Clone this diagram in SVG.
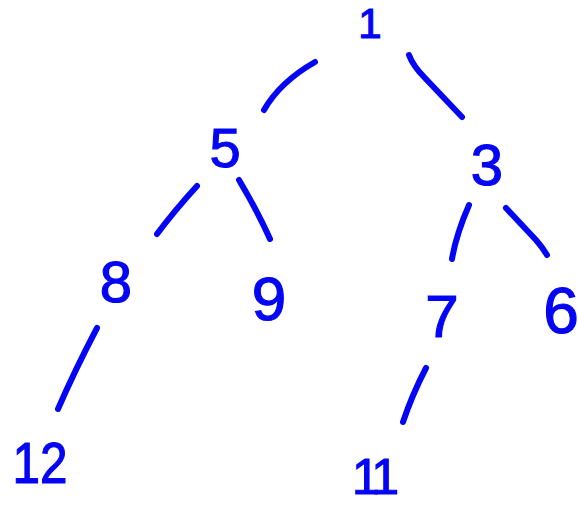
<svg xmlns="http://www.w3.org/2000/svg" width="578" height="506" viewBox="0 0 578 506">
<style>
.n{font-family:"Liberation Sans","DejaVu Sans",sans-serif;fill:#0505f5;stroke:#0505f5;stroke-width:1.2;text-anchor:middle}
.e{fill:none;stroke:#0505f5;stroke-width:6;stroke-linecap:round}
</style>
<rect width="578" height="506" fill="#fff"/>
<g id="connectors">
<path class="e" d="M315 62 Q280 82 264 110"/>
<path class="e" d="M409 55 Q413 66 425 78 L462 117"/>
<path class="e" d="M197 186 Q175 210 157 234"/>
<path class="e" d="M239 180 Q258 212 270 239"/>
<path class="e" d="M469 205 Q456 235 452 259"/>
<path class="e" d="M506 208 L536 240 Q543 248 547 255"/>
<path class="e" d="M97 328 Q75 370 58 409"/>
<path class="e" d="M426 368 Q412 395 403 422"/>
</g>
<g id="n1"><text class="n" x="370" y="38" font-size="42">1</text></g>
<g id="n5"><text class="n" x="225" y="167" font-size="56">5</text></g>
<g id="n3"><text class="n" x="487" y="185" font-size="58">3</text></g>
<g id="n8"><text class="n" x="116" y="302" font-size="58">8</text></g>
<g id="n9"><text class="n" x="269" y="320" font-size="62">9</text></g>
<g id="n7"><text class="n" x="442" y="337" font-size="60">7</text></g>
<g id="n6"><text class="n" x="561" y="333" font-size="64">6</text></g>
<g id="n12"><text class="n" x="40" y="483" font-size="57" textLength="55" lengthAdjust="spacingAndGlyphs">12</text></g>
<g id="n11"><text class="n" x="373" y="494" font-size="50" letter-spacing="-5">11</text></g>
</svg>
